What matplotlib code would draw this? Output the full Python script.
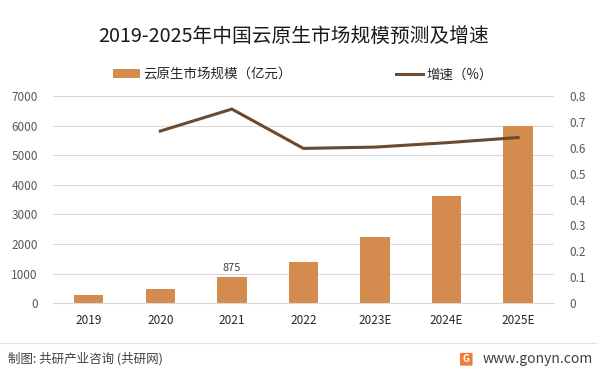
import numpy as np
import matplotlib.pyplot as plt
from matplotlib.patches import FancyBboxPatch

plt.rcParams['font.family'] = ['Noto Sans CJK SC', 'DejaVu Sans']

years = ["2019", "2020", "2021", "2022", "2023E", "2024E", "2025E"]
scale = [270, 480, 875, 1390, 2230, 3620, 5990]
growth = [None, 0.665, 0.75, 0.598, 0.603, 0.62, 0.64]

bar_color = "#D38C4E"
line_color = "#6B4A30"
grid_color = "#D9D9D9"
tick_color = "#595959"

fig = plt.figure(figsize=(6.02, 3.77), dpi=100)
ax = fig.add_axes([0.088, 0.196, 0.832, 0.549])
ax2 = ax.twinx()

x = np.arange(len(years))
ax.bar(x, scale, width=0.41, color=bar_color, zorder=2, label="云原生市场规模（亿元）")
ax.text(x[2], scale[2] + 150, "875", ha="center", va="bottom", fontsize=8, color="#404040")

gx = [x[i] for i in range(len(years)) if growth[i] is not None]
gy = [g for g in growth if g is not None]
ax2.plot(gx, gy, color=line_color, lw=2.2, zorder=3, label="增速（%）")

ax.set_xlim(-0.5, len(years) - 0.5)
ax.set_ylim(0, 7000)
ax.set_yticks(range(0, 7001, 1000))
ax2.set_ylim(0, 0.8)
ax2.set_yticks([0, 0.1, 0.2, 0.3, 0.4, 0.5, 0.6, 0.7, 0.8])
ax2.set_yticklabels(["0", "0.1", "0.2", "0.3", "0.4", "0.5", "0.6", "0.7", "0.8"])
ax.set_xticks(x)
ax.set_xticklabels(years)

ax.grid(axis="y", color=grid_color, lw=0.8, zorder=0)
ax.set_axisbelow(True)
for a in (ax, ax2):
    for s in a.spines.values():
        s.set_visible(False)
    a.tick_params(length=0, labelsize=8.5, colors=tick_color)
ax.spines["bottom"].set_visible(True)
ax.spines["bottom"].set_color(grid_color)
ax.tick_params(axis="x", colors="#262626", pad=8)
ax.tick_params(axis="y", pad=11)
ax2.tick_params(axis="y", pad=11)
ax2.set_zorder(ax.get_zorder() + 1)
ax2.patch.set_visible(False)

fig.text(0.488, 0.902, "2019-2025年中国云原生市场规模预测及增速", ha="center", va="center",
         fontsize=14.2, color="#1a1a1a")

h1, l1 = ax.get_legend_handles_labels()
h2, l2 = ax2.get_legend_handles_labels()
fig.legend(h1 + h2, l1 + l2, loc="center", bbox_to_anchor=(0.503, 0.803), ncol=2,
           frameon=False, fontsize=9.7, columnspacing=7.7, handlelength=2.0,
           handletextpad=0.25, labelcolor="#262626")

fig.add_artist(plt.Line2D([0.0, 0.99], [0.09, 0.09], transform=fig.transFigure,
                          color="#E0E0E0", lw=0.8))
fig.text(0.013, 0.048, "制图: 共研产业咨询 (共研网)", ha="left", va="center",
         fontsize=9, color="#404040")
logo = FancyBboxPatch((0.766, 0.032), 0.017, 0.03, boxstyle="round,pad=0.002",
                      transform=fig.transFigure, color="#F07B3F", ec="none")
fig.add_artist(logo)
fig.text(0.7745, 0.047, "G", ha="center", va="center", fontsize=7,
         color="white", weight="bold")
fig.text(0.985, 0.048, "www.gonyn.com", ha="right", va="center",
         fontsize=10, color="#404040")

fig.savefig("out.png", dpi=100)
